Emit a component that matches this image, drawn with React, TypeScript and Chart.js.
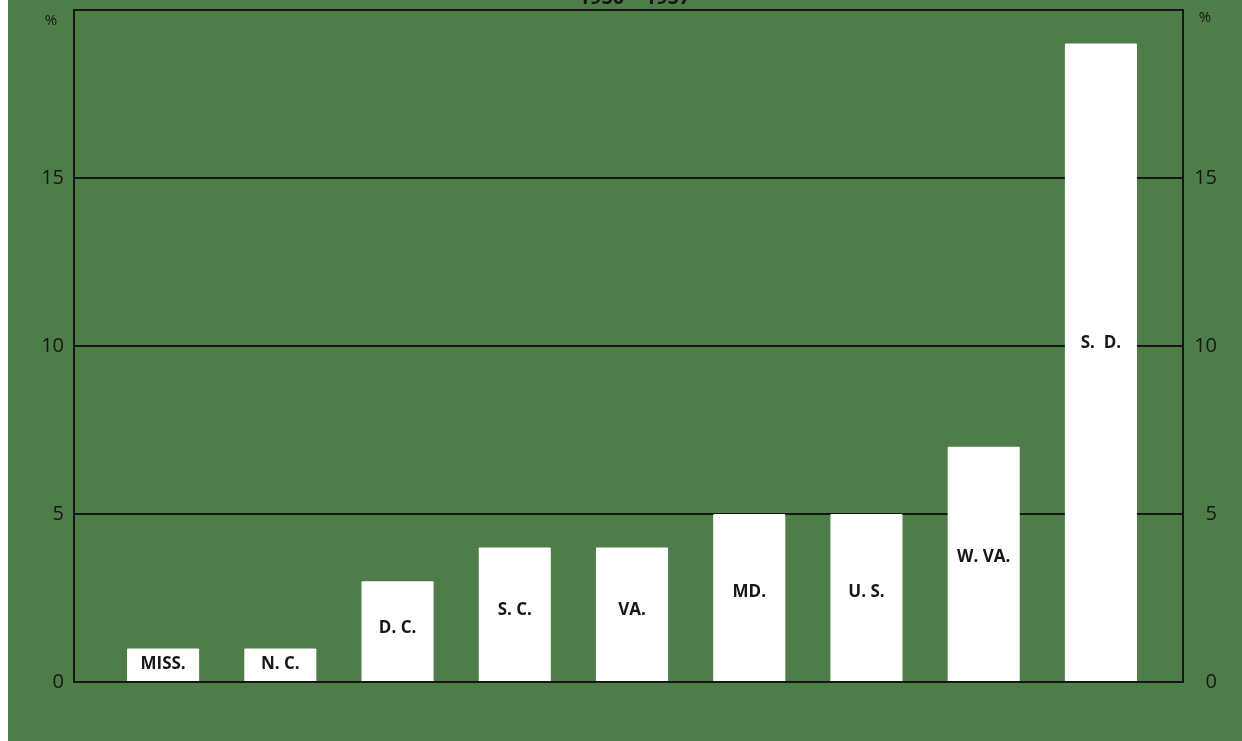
import React, { useEffect, useRef } from "react";
import { Chart, registerables } from "chart.js";

Chart.register(...registerables);

const categories = ["MISS.", "N. C.", "D. C.", "S. C.", "VA.", "MD.", "U. S.", "W. VA.", "S.  D."];
const values = [1, 1, 3, 4, 4, 5, 5, 7, 19];
const yTicks = [0, 5, 10, 15];
const titleText = "1950 – 1957";
const unitText = "%";

const GREEN = "#4f7d49";
const INK = "#161616";

const decorPlugin = {
  id: "decor",
  beforeDraw(chart: any) {
    const { ctx, width, height } = chart;
    ctx.save();
    ctx.fillStyle = GREEN;
    ctx.fillRect(0, 0, width, height);
    ctx.restore();
  },
  afterDatasetsDraw(chart: any) {
    const { ctx } = chart;
    const meta = chart.getDatasetMeta(0);
    ctx.save();
    ctx.fillStyle = INK;
    ctx.font = "bold 17px 'Open Sans', 'DejaVu Sans', sans-serif";
    ctx.textAlign = "center";
    ctx.textBaseline = "middle";
    meta.data.forEach((bar: any, i: number) => {
      const h = bar.base - bar.y;
      const y = bar.base - h * 0.53;
      ctx.fillText(categories[i], bar.x, y);
    });
    const yl = chart.scales.y;
    const yr = chart.scales.y2;
    ctx.font = "15px 'Open Sans', 'DejaVu Sans', sans-serif";
    ctx.textBaseline = "middle";
    ctx.fillText(unitText, yl.left + yl.width - 23, chart.chartArea.top + 11);
    ctx.fillText(unitText, yr.left + 22, chart.chartArea.top + 8);
    ctx.font = "bold 20px 'Open Sans', 'DejaVu Sans', sans-serif";
    ctx.textBaseline = "alphabetic";
    ctx.fillText(titleText, (chart.chartArea.left + chart.chartArea.right) / 2 + 6, 4);
    ctx.restore();
  },
};

const tickFont = { family: "'Open Sans', 'DejaVu Sans', sans-serif", size: 20, weight: "normal" as any };

export default function App() {
  const ref = useRef<HTMLCanvasElement | null>(null);
  useEffect(() => {
    if (!ref.current) return;
    const chart = new Chart(ref.current, {
      type: "bar",
      data: {
        datasets: [
          {
            data: values.map((v, i) => ({ x: i, y: v })),
            backgroundColor: "#ffffff",
            borderWidth: 0,
            borderRadius: 1,
            categoryPercentage: 1,
            barPercentage: 0.615,
            yAxisID: "y",
            xAxisID: "x",
          },
        ],
      },
      options: {
        responsive: false,
        animation: false,
        layout: { padding: { top: 10, bottom: 59, left: 0, right: 25 } },
        plugins: { legend: { display: false }, tooltip: { enabled: false }, title: { display: false } },
        scales: {
          x: {
            type: "linear",
            position: "bottom",
            min: -0.76,
            max: 8.7,
            offset: false,
            display: false,
            afterBuildTicks: (s: any) => {
              s.ticks = categories.map((_, i) => ({ value: i }));
            },
            grid: { display: false },
          },
          xTop: {
            type: "linear",
            position: "top",
            min: -0.76,
            max: 8.7,
            offset: false,
            display: true,
            afterFit: (s: any) => {
              s.height = 0;
              s.paddingLeft = 0;
              s.paddingRight = 0;
            },
            ticks: { display: false },
            grid: { display: false, drawTicks: false },
            border: { display: true, color: INK, width: 2 },
          },
          y: {
            position: "left",
            min: 0,
            max: 20,
            afterBuildTicks: (s: any) => {
              s.ticks = yTicks.map((v) => ({ value: v }));
            },
            afterFit: (s: any) => {
              s.width = 66;
              s.paddingTop = 0;
              s.paddingBottom = 0;
            },
            ticks: {
              color: INK,
              font: tickFont,
              padding: 10,
              callback: (v: any) => String(v),
            },
            grid: { color: INK, lineWidth: 2, drawTicks: false, tickLength: 0 },
            border: { display: true, color: INK, width: 2 },
          },
          y2: {
            position: "right",
            min: 0,
            max: 20,
            afterBuildTicks: (s: any) => {
              s.ticks = yTicks.map((v) => ({ value: v }));
            },
            afterFit: (s: any) => {
              s.width = 34;
              s.paddingTop = 0;
              s.paddingBottom = 0;
            },
            ticks: {
              color: INK,
              font: tickFont,
              padding: 12,
              crossAlign: "far",
              callback: (v: any) => String(v),
            },
            grid: { display: false, drawTicks: false, tickLength: 0 },
            border: { display: true, color: INK, width: 2 },
          },
        },
      },
      plugins: [decorPlugin],
    } as any);
    return () => chart.destroy();
  }, []);
  return (
    <div style={{ position: "fixed", left: 8, top: 0, width: 1234, height: 741 }}>
      <canvas ref={ref} width={1234} height={741} style={{ width: 1234, height: 741, display: "block" }} />
    </div>
  );
}
